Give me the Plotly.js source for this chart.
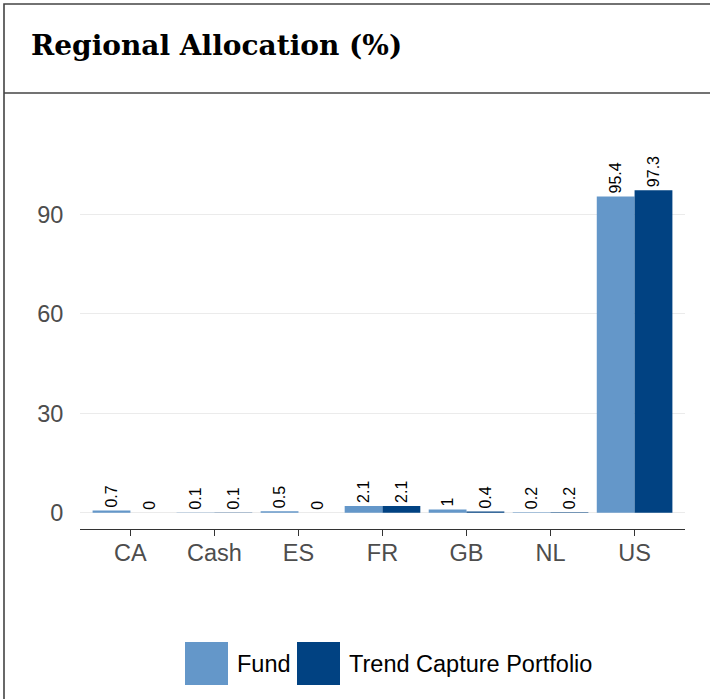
<!DOCTYPE html>
<html>
<head>
<meta charset="utf-8">
<script src="https://cdn.plot.ly/plotly-3.0.1.min.js"></script>
<style>html,body{margin:0;padding:0;background:#fff;}#chart{width:710px;height:699px;}</style>
</head>
<body>
<div id="chart"></div>
<script>
// ---- data ----
const categories = ['CA', 'Cash', 'ES', 'FR', 'GB', 'NL', 'US'];
const fundValues = [0.7, 0.1, 0.5, 2.1, 1, 0.2, 95.4];
const trendValues = [0, 0.1, 0, 2.1, 0.4, 0.2, 97.3];
const seriesNames = ['Fund', 'Trend Capture Portfolio'];
const yTickValues = [0, 30, 60, 90];
const chartTitle = 'Regional Allocation (%)';

// ---- styling ----
const colors = ['#6497c9', '#014282'];
const W = 710, H = 699;
const M = {l: 80, r: 25, t: 174, b: 170};
const PW = W - M.l - M.r, PH = H - M.t - M.b;
const px = x => (x - M.l) / PW;
const py = y => (H - M.b - y) / PH;
const sans = 'Liberation Sans, Arial, sans-serif';

const maxV = Math.max(...fundValues, ...trendValues);
const pad = maxV * 0.05;

function barTrace(name, vals, color) {
  return {
    type: 'bar', name: name, x: categories, y: vals,
    marker: {color: color, line: {width: 0}},
    text: vals.map(v => String(v)), textposition: 'outside',
    textangle: -90, constraintext: 'none', cliponaxis: false,
    textfont: {family: sans, size: 16, color: '#000'},
    hoverinfo: 'x+y', showlegend: false
  };
}

const traces = [
  barTrace(seriesNames[0], fundValues, colors[0]),
  barTrace(seriesNames[1], trendValues, colors[1])
];

const lineCol = '#444';
const shapes = [
  {type: 'rect', xref: 'paper', yref: 'paper', x0: px(4), x1: px(712), y0: py(4), y1: py(702),
   line: {color: lineCol, width: 1.6}, fillcolor: 'rgba(0,0,0,0)', layer: 'below'},
  {type: 'line', xref: 'paper', yref: 'paper', x0: px(4), x1: px(712), y0: py(93), y1: py(93),
   line: {color: lineCol, width: 1.6}}
];
const annotations = [];
const legendItems = [
  {x0: 185, textX: 235},
  {x0: 297, textX: 347}
];
legendItems.forEach((it, i) => {
  shapes.push({type: 'rect', xref: 'paper', yref: 'paper',
    x0: px(it.x0), x1: px(it.x0 + 43), y0: py(685), y1: py(642),
    line: {width: 0}, fillcolor: colors[i]});
  annotations.push({xref: 'paper', yref: 'paper', x: px(it.textX), y: py(664),
    xanchor: 'left', yanchor: 'middle', showarrow: false, text: seriesNames[i],
    font: {family: sans, size: 23.5, color: '#000'}});
});

const layout = {
  width: W, height: H, margin: M,
  paper_bgcolor: '#fff', plot_bgcolor: '#fff',
  title: {text: chartTitle, xref: 'container', yref: 'container', x: 31 / W, xanchor: 'left',
    y: 1 - 45 / H, yanchor: 'middle',
    font: {family: 'DejaVu Serif, serif', size: 28, color: '#000', weight: 'bold'}},
  barmode: 'group', bargap: 0.1, bargroupgap: 0,
  showlegend: false,
  xaxis: {
    type: 'category', range: [-0.6, categories.length - 0.4],
    showgrid: false, zeroline: false,
    showline: true, linecolor: '#333', linewidth: 1.2,
    ticks: 'outside', ticklen: 6, tickwidth: 1.5, tickcolor: '#333',
    ticklabelstandoff: -3,
    tickfont: {family: sans, size: 23.5, color: '#4d4d4d'},
    fixedrange: true
  },
  yaxis: {
    range: [-pad, maxV + pad], tickvals: yTickValues, ticktext: yTickValues.map(String),
    showgrid: true, gridcolor: '#ebebeb', gridwidth: 1.1, zeroline: false,
    showline: false, ticks: 'outside', ticklen: 11, tickcolor: 'rgba(0,0,0,0)',
    tickfont: {family: sans, size: 23.5, color: '#4d4d4d'},
    fixedrange: true
  },
  shapes: shapes, annotations: annotations
};

Plotly.newPlot('chart', traces, layout, {displayModeBar: false, staticPlot: true});
</script>
</body>
</html>
